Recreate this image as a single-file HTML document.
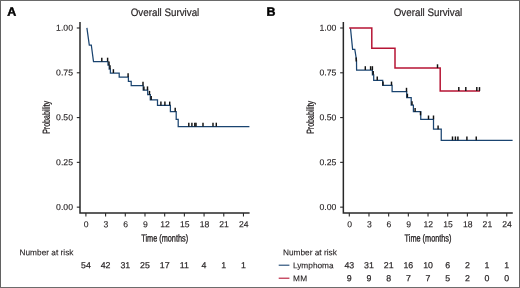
<!DOCTYPE html>
<html lang="en"><head><meta charset="utf-8"><title>Overall Survival</title>
<style>
html,body{margin:0;padding:0;background:#fff;}
body{width:520px;height:288px;overflow:hidden;}
svg{display:block;}
text{font-family:"Liberation Sans",Arial,Helvetica,sans-serif;fill:#231f20;}
.tk{font-size:8.7px;stroke:#231f20;stroke-width:0.12px;}
.ti{font-size:10.8px;stroke:#231f20;stroke-width:0.2px;}
.al{font-size:10.1px;stroke:#231f20;stroke-width:0.32px;}
.pl{font-size:12.2px;font-weight:bold;fill:#000;stroke:#000;stroke-width:0.45px;}
.nr{font-size:8.3px;stroke:#231f20;stroke-width:0.12px;}
.nn{font-size:8.8px;stroke:#231f20;stroke-width:0.2px;}
</style></head><body>
<svg width="520" height="288" viewBox="0 0 520 288">
<rect x="0" y="0" width="520" height="288" fill="#fff"/>
<g id="plot">
<g id="panelA">
<path d="M80,21.9 V213.0 H249.6" fill="none" stroke="#282828" stroke-width="1.5"/>
<line x1="76.8" y1="207.15" x2="80" y2="207.15" stroke="#282828" stroke-width="1.1"/>
<text transform="translate(73.0,209.95) rotate(0.05)" text-anchor="end" class="tk">0.00</text>
<line x1="76.8" y1="162.36" x2="80" y2="162.36" stroke="#282828" stroke-width="1.1"/>
<text transform="translate(73.0,165.16) rotate(0.05)" text-anchor="end" class="tk">0.25</text>
<line x1="76.8" y1="117.58" x2="80" y2="117.58" stroke="#282828" stroke-width="1.1"/>
<text transform="translate(73.0,120.38) rotate(0.05)" text-anchor="end" class="tk">0.50</text>
<line x1="76.8" y1="72.79" x2="80" y2="72.79" stroke="#282828" stroke-width="1.1"/>
<text transform="translate(73.0,75.59) rotate(0.05)" text-anchor="end" class="tk">0.75</text>
<line x1="76.8" y1="28.00" x2="80" y2="28.00" stroke="#282828" stroke-width="1.1"/>
<text transform="translate(73.0,30.80) rotate(0.05)" text-anchor="end" class="tk">1.00</text>
<line x1="85.90" y1="213.0" x2="85.90" y2="216.5" stroke="#282828" stroke-width="1.1"/>
<text transform="translate(86.25,227.2) rotate(0.05) scale(0.99,1)" text-anchor="middle" class="tk">0</text>
<line x1="105.59" y1="213.0" x2="105.59" y2="216.5" stroke="#282828" stroke-width="1.1"/>
<text transform="translate(105.94,227.2) rotate(0.05) scale(0.99,1)" text-anchor="middle" class="tk">3</text>
<line x1="125.29" y1="213.0" x2="125.29" y2="216.5" stroke="#282828" stroke-width="1.1"/>
<text transform="translate(125.64,227.2) rotate(0.05) scale(0.99,1)" text-anchor="middle" class="tk">6</text>
<line x1="144.99" y1="213.0" x2="144.99" y2="216.5" stroke="#282828" stroke-width="1.1"/>
<text transform="translate(145.34,227.2) rotate(0.05) scale(0.99,1)" text-anchor="middle" class="tk">9</text>
<line x1="164.68" y1="213.0" x2="164.68" y2="216.5" stroke="#282828" stroke-width="1.1"/>
<text transform="translate(165.03,227.2) rotate(0.05) scale(0.99,1)" text-anchor="middle" class="tk">12</text>
<line x1="184.38" y1="213.0" x2="184.38" y2="216.5" stroke="#282828" stroke-width="1.1"/>
<text transform="translate(184.72,227.2) rotate(0.05) scale(0.99,1)" text-anchor="middle" class="tk">15</text>
<line x1="204.07" y1="213.0" x2="204.07" y2="216.5" stroke="#282828" stroke-width="1.1"/>
<text transform="translate(204.42,227.2) rotate(0.05) scale(0.99,1)" text-anchor="middle" class="tk">18</text>
<line x1="223.77" y1="213.0" x2="223.77" y2="216.5" stroke="#282828" stroke-width="1.1"/>
<text transform="translate(224.12,227.2) rotate(0.05) scale(0.99,1)" text-anchor="middle" class="tk">21</text>
<line x1="243.46" y1="213.0" x2="243.46" y2="216.5" stroke="#282828" stroke-width="1.1"/>
<text transform="translate(243.81,227.2) rotate(0.05) scale(0.99,1)" text-anchor="middle" class="tk">24</text>
<text transform="translate(165,16.0) rotate(0.05) scale(0.907,1)" text-anchor="middle" class="ti">Overall Survival</text>
<text transform="translate(49.7,117.4) rotate(-89.95) scale(0.70,1)" text-anchor="middle" class="al">Probability</text>
<text transform="translate(164.68,241.5) rotate(0.05) scale(0.725,1)" text-anchor="middle" class="al">Time (months)</text>
<text transform="translate(7.2,15.8) rotate(0.05) scale(1.02,1)" class="pl">A</text>
<path d="M86.9,27.9 L89.3,45.0 H91.3 L93.5,61.5 H108.0 V65.2 H109.2 V69.0 H110.4 V73.0 H119.2 V77.1 H128.4 V81.3 H131.2 V85.55 H143.2 V90.2 H147.7 V94.7 H150.3 V99.9 H157.5 V105.4 H170.4 V111.5 H176.2 V119.3 H178.2 V126.5 H249.4" fill="none" stroke="#1a4470" stroke-width="1.25" stroke-linejoin="miter"/>
<line x1="101.8" y1="57.7" x2="101.8" y2="61.5" stroke="#111111" stroke-width="1.45"/>
<line x1="107.6" y1="57.7" x2="107.6" y2="61.5" stroke="#111111" stroke-width="1.45"/>
<line x1="109.0" y1="61.400000000000006" x2="109.0" y2="65.2" stroke="#111111" stroke-width="1.45"/>
<line x1="110.0" y1="65.2" x2="110.0" y2="69.0" stroke="#111111" stroke-width="1.45"/>
<line x1="113.4" y1="69.2" x2="113.4" y2="73.0" stroke="#111111" stroke-width="1.45"/>
<line x1="128.1" y1="73.3" x2="128.1" y2="77.1" stroke="#111111" stroke-width="1.45"/>
<line x1="143.0" y1="81.75" x2="143.0" y2="85.55" stroke="#111111" stroke-width="1.45"/>
<line x1="143.9" y1="86.4" x2="143.9" y2="90.2" stroke="#111111" stroke-width="1.45"/>
<line x1="147.5" y1="86.4" x2="147.5" y2="90.2" stroke="#111111" stroke-width="1.45"/>
<line x1="149.5" y1="90.9" x2="149.5" y2="94.7" stroke="#111111" stroke-width="1.45"/>
<line x1="151.2" y1="96.10000000000001" x2="151.2" y2="99.9" stroke="#111111" stroke-width="1.45"/>
<line x1="160.9" y1="101.60000000000001" x2="160.9" y2="105.4" stroke="#111111" stroke-width="1.45"/>
<line x1="164.9" y1="101.60000000000001" x2="164.9" y2="105.4" stroke="#111111" stroke-width="1.45"/>
<line x1="169.7" y1="101.60000000000001" x2="169.7" y2="105.4" stroke="#111111" stroke-width="1.45"/>
<line x1="175.2" y1="107.7" x2="175.2" y2="111.5" stroke="#111111" stroke-width="1.45"/>
<line x1="188.8" y1="122.7" x2="188.8" y2="126.5" stroke="#111111" stroke-width="1.45"/>
<line x1="191.9" y1="122.7" x2="191.9" y2="126.5" stroke="#111111" stroke-width="1.45"/>
<line x1="194.8" y1="122.7" x2="194.8" y2="126.5" stroke="#111111" stroke-width="1.45"/>
<line x1="196.0" y1="122.7" x2="196.0" y2="126.5" stroke="#111111" stroke-width="1.45"/>
<line x1="203.0" y1="122.7" x2="203.0" y2="126.5" stroke="#111111" stroke-width="1.45"/>
<line x1="213.0" y1="122.7" x2="213.0" y2="126.5" stroke="#111111" stroke-width="1.45"/>
<line x1="216.3" y1="122.7" x2="216.3" y2="126.5" stroke="#111111" stroke-width="1.45"/>
<text transform="translate(19.5,255.2) rotate(0.05)" class="nr">Number at risk</text>
<text transform="translate(85.90,268.2) rotate(0.05)" text-anchor="middle" class="nn">54</text>
<text transform="translate(105.59,268.2) rotate(0.05)" text-anchor="middle" class="nn">42</text>
<text transform="translate(125.29,268.2) rotate(0.05)" text-anchor="middle" class="nn">31</text>
<text transform="translate(144.99,268.2) rotate(0.05)" text-anchor="middle" class="nn">25</text>
<text transform="translate(164.68,268.2) rotate(0.05)" text-anchor="middle" class="nn">17</text>
<text transform="translate(184.38,268.2) rotate(0.05)" text-anchor="middle" class="nn">11</text>
<text transform="translate(204.07,268.2) rotate(0.05)" text-anchor="middle" class="nn">4</text>
<text transform="translate(223.77,268.2) rotate(0.05)" text-anchor="middle" class="nn">1</text>
<text transform="translate(243.46,268.2) rotate(0.05)" text-anchor="middle" class="nn">1</text>
</g>
<g id="panelB">
<path d="M343.35,21.9 V213.0 H512.8" fill="none" stroke="#282828" stroke-width="1.5"/>
<line x1="340.15000000000003" y1="207.15" x2="343.35" y2="207.15" stroke="#282828" stroke-width="1.1"/>
<text transform="translate(336.35,209.95) rotate(0.05)" text-anchor="end" class="tk">0.00</text>
<line x1="340.15000000000003" y1="162.36" x2="343.35" y2="162.36" stroke="#282828" stroke-width="1.1"/>
<text transform="translate(336.35,165.16) rotate(0.05)" text-anchor="end" class="tk">0.25</text>
<line x1="340.15000000000003" y1="117.58" x2="343.35" y2="117.58" stroke="#282828" stroke-width="1.1"/>
<text transform="translate(336.35,120.38) rotate(0.05)" text-anchor="end" class="tk">0.50</text>
<line x1="340.15000000000003" y1="72.79" x2="343.35" y2="72.79" stroke="#282828" stroke-width="1.1"/>
<text transform="translate(336.35,75.59) rotate(0.05)" text-anchor="end" class="tk">0.75</text>
<line x1="340.15000000000003" y1="28.00" x2="343.35" y2="28.00" stroke="#282828" stroke-width="1.1"/>
<text transform="translate(336.35,30.80) rotate(0.05)" text-anchor="end" class="tk">1.00</text>
<line x1="349.30" y1="213.0" x2="349.30" y2="216.5" stroke="#282828" stroke-width="1.1"/>
<text transform="translate(349.65,227.2) rotate(0.05) scale(0.99,1)" text-anchor="middle" class="tk">0</text>
<line x1="368.98" y1="213.0" x2="368.98" y2="216.5" stroke="#282828" stroke-width="1.1"/>
<text transform="translate(369.33,227.2) rotate(0.05) scale(0.99,1)" text-anchor="middle" class="tk">3</text>
<line x1="388.66" y1="213.0" x2="388.66" y2="216.5" stroke="#282828" stroke-width="1.1"/>
<text transform="translate(389.01,227.2) rotate(0.05) scale(0.99,1)" text-anchor="middle" class="tk">6</text>
<line x1="408.34" y1="213.0" x2="408.34" y2="216.5" stroke="#282828" stroke-width="1.1"/>
<text transform="translate(408.69,227.2) rotate(0.05) scale(0.99,1)" text-anchor="middle" class="tk">9</text>
<line x1="428.02" y1="213.0" x2="428.02" y2="216.5" stroke="#282828" stroke-width="1.1"/>
<text transform="translate(428.37,227.2) rotate(0.05) scale(0.99,1)" text-anchor="middle" class="tk">12</text>
<line x1="447.70" y1="213.0" x2="447.70" y2="216.5" stroke="#282828" stroke-width="1.1"/>
<text transform="translate(448.05,227.2) rotate(0.05) scale(0.99,1)" text-anchor="middle" class="tk">15</text>
<line x1="467.38" y1="213.0" x2="467.38" y2="216.5" stroke="#282828" stroke-width="1.1"/>
<text transform="translate(467.73,227.2) rotate(0.05) scale(0.99,1)" text-anchor="middle" class="tk">18</text>
<line x1="487.06" y1="213.0" x2="487.06" y2="216.5" stroke="#282828" stroke-width="1.1"/>
<text transform="translate(487.41,227.2) rotate(0.05) scale(0.99,1)" text-anchor="middle" class="tk">21</text>
<line x1="506.74" y1="213.0" x2="506.74" y2="216.5" stroke="#282828" stroke-width="1.1"/>
<text transform="translate(507.09,227.2) rotate(0.05) scale(0.99,1)" text-anchor="middle" class="tk">24</text>
<text transform="translate(428,16.0) rotate(0.05) scale(0.907,1)" text-anchor="middle" class="ti">Overall Survival</text>
<text transform="translate(313.7,117.4) rotate(-89.95) scale(0.70,1)" text-anchor="middle" class="al">Probability</text>
<text transform="translate(428.02,241.5) rotate(0.05) scale(0.725,1)" text-anchor="middle" class="al">Time (months)</text>
<text transform="translate(266.6,15.8) rotate(0.05) scale(1.02,1)" class="pl">B</text>
<path d="M350.5,28.2 L352.6,49.3 H354.8 L356.5,60.0 L356.6,70.0 H372.4 V74.8 H373.7 V80.3 H382.7 V85.4 H392.1 V91.6 H406.7 V97.5 H411.2 V105.1 H413.4 V111.7 H420.75 V119.3 H433.5 V129.2 H441.25 V140.25 H512.6" fill="none" stroke="#1a4470" stroke-width="1.25" stroke-linejoin="miter"/>
<line x1="356.2" y1="57.6" x2="356.2" y2="61.4" stroke="#111111" stroke-width="1.45"/>
<line x1="365.3" y1="66.2" x2="365.3" y2="70.0" stroke="#111111" stroke-width="1.45"/>
<line x1="370.6" y1="66.2" x2="370.6" y2="70.0" stroke="#111111" stroke-width="1.45"/>
<line x1="372.4" y1="66.2" x2="372.4" y2="70.0" stroke="#111111" stroke-width="1.45"/>
<line x1="373.2" y1="71.0" x2="373.2" y2="74.8" stroke="#111111" stroke-width="1.45"/>
<line x1="377.25" y1="76.5" x2="377.25" y2="80.3" stroke="#111111" stroke-width="1.45"/>
<line x1="383.0" y1="81.60000000000001" x2="383.0" y2="85.4" stroke="#111111" stroke-width="1.45"/>
<line x1="391.5" y1="81.60000000000001" x2="391.5" y2="85.4" stroke="#111111" stroke-width="1.45"/>
<line x1="406.5" y1="87.8" x2="406.5" y2="91.6" stroke="#111111" stroke-width="1.45"/>
<line x1="407.4" y1="93.7" x2="407.4" y2="97.5" stroke="#111111" stroke-width="1.45"/>
<line x1="412.0" y1="101.3" x2="412.0" y2="105.1" stroke="#111111" stroke-width="1.45"/>
<line x1="415.1" y1="107.9" x2="415.1" y2="111.7" stroke="#111111" stroke-width="1.45"/>
<line x1="420.5" y1="111.5" x2="420.5" y2="115.3" stroke="#111111" stroke-width="1.45"/>
<line x1="428.5" y1="115.5" x2="428.5" y2="119.3" stroke="#111111" stroke-width="1.45"/>
<line x1="433.5" y1="115.5" x2="433.5" y2="119.3" stroke="#111111" stroke-width="1.45"/>
<line x1="438.1" y1="125.39999999999999" x2="438.1" y2="129.2" stroke="#111111" stroke-width="1.45"/>
<line x1="452.5" y1="136.45" x2="452.5" y2="140.25" stroke="#111111" stroke-width="1.45"/>
<line x1="455.4" y1="136.45" x2="455.4" y2="140.25" stroke="#111111" stroke-width="1.45"/>
<line x1="457.9" y1="136.45" x2="457.9" y2="140.25" stroke="#111111" stroke-width="1.45"/>
<line x1="466.9" y1="136.45" x2="466.9" y2="140.25" stroke="#111111" stroke-width="1.45"/>
<line x1="476.25" y1="136.45" x2="476.25" y2="140.25" stroke="#111111" stroke-width="1.45"/>
<path d="M349.2,28.1 H371.8 V48.25 H395.0 V68.1 H440.2 V90.9 H480" fill="none" stroke="#b61535" stroke-width="1.5" stroke-linejoin="miter"/>
<line x1="437.5" y1="64.3" x2="437.5" y2="68.1" stroke="#111111" stroke-width="1.45"/>
<line x1="458.8" y1="87.10000000000001" x2="458.8" y2="90.9" stroke="#111111" stroke-width="1.45"/>
<line x1="465.8" y1="87.10000000000001" x2="465.8" y2="90.9" stroke="#111111" stroke-width="1.45"/>
<line x1="476.8" y1="87.10000000000001" x2="476.8" y2="90.9" stroke="#111111" stroke-width="1.45"/>
<line x1="479.5" y1="87.10000000000001" x2="479.5" y2="90.9" stroke="#111111" stroke-width="1.45"/>
<text transform="translate(282.9,255.2) rotate(0.05)" class="nr">Number at risk</text>
<line x1="278.7" y1="265.2" x2="289.4" y2="265.2" stroke="#1a4470" stroke-width="1.1"/>
<line x1="278.7" y1="278.2" x2="289.4" y2="278.2" stroke="#b61535" stroke-width="1.1"/>
<text transform="translate(292.9,268.2) rotate(0.05)" class="nr">Lymphoma</text>
<text transform="translate(292.9,281.2) rotate(0.05)" class="nr" style="letter-spacing:0.5px">MM</text>
<text transform="translate(349.30,268.2) rotate(0.05)" text-anchor="middle" class="nn">43</text>
<text transform="translate(368.98,268.2) rotate(0.05)" text-anchor="middle" class="nn">31</text>
<text transform="translate(388.66,268.2) rotate(0.05)" text-anchor="middle" class="nn">21</text>
<text transform="translate(408.34,268.2) rotate(0.05)" text-anchor="middle" class="nn">16</text>
<text transform="translate(428.02,268.2) rotate(0.05)" text-anchor="middle" class="nn">10</text>
<text transform="translate(447.70,268.2) rotate(0.05)" text-anchor="middle" class="nn">6</text>
<text transform="translate(467.38,268.2) rotate(0.05)" text-anchor="middle" class="nn">2</text>
<text transform="translate(487.06,268.2) rotate(0.05)" text-anchor="middle" class="nn">1</text>
<text transform="translate(506.74,268.2) rotate(0.05)" text-anchor="middle" class="nn">1</text>
<text transform="translate(349.30,281.2) rotate(0.05)" text-anchor="middle" class="nn">9</text>
<text transform="translate(368.98,281.2) rotate(0.05)" text-anchor="middle" class="nn">9</text>
<text transform="translate(388.66,281.2) rotate(0.05)" text-anchor="middle" class="nn">8</text>
<text transform="translate(408.34,281.2) rotate(0.05)" text-anchor="middle" class="nn">7</text>
<text transform="translate(428.02,281.2) rotate(0.05)" text-anchor="middle" class="nn">7</text>
<text transform="translate(447.70,281.2) rotate(0.05)" text-anchor="middle" class="nn">5</text>
<text transform="translate(467.38,281.2) rotate(0.05)" text-anchor="middle" class="nn">2</text>
<text transform="translate(487.06,281.2) rotate(0.05)" text-anchor="middle" class="nn">0</text>
<text transform="translate(506.74,281.2) rotate(0.05)" text-anchor="middle" class="nn">0</text>
</g>
</g>
<path d="M0.5,0 V288" stroke="#626262" stroke-width="1" fill="none"/>
<path d="M519.5,0 V288" stroke="#666666" stroke-width="1" fill="none"/>
<path d="M0,0.5 H520" stroke="#6a6a6a" stroke-width="1" fill="none"/>
<path d="M0,287.5 H520" stroke="#6c6c6c" stroke-width="1" fill="none"/>
</svg></body></html>
